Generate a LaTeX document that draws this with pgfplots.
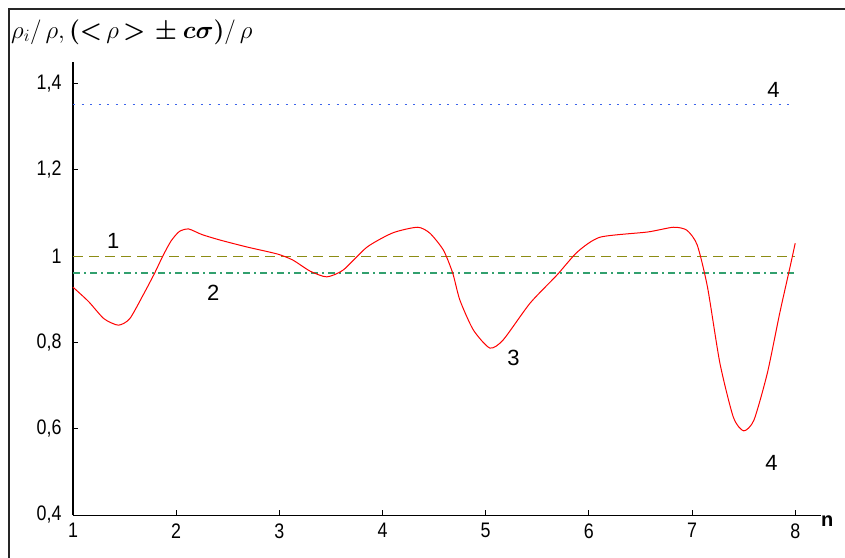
\documentclass[border=0pt]{standalone}
\usepackage{pgfplots}
\pgfplotsset{compat=1.18}
\usepackage{bm}
\usepackage{fontspec}
\setmainfont{Liberation Sans}
\newfontfamily\tickfont[FakeStretch=0.85]{Liberation Sans}
\newcommand{\tf}{\tickfont\fontsize{21}{23}\selectfont}
\definecolor{cOlive}{RGB}{140,140,20}
\definecolor{cGreen}{RGB}{50,160,110}
\definecolor{cBlue}{RGB}{60,100,235}
\begin{document}
\begin{tikzpicture}[x=1pt,y=1pt]
\useasboundingbox (-73,-42) rectangle (772,515);
\draw[line width=2.2pt,black!85] (-64,-45) -- (-64,506) -- (775,506);
\begin{axis}[
  at={(0,0)}, anchor=south west,
  scale only axis, width=748pt, height=453pt,
  xmin=1, xmax=8.25, ymin=0.4, ymax=1.45,
  axis x line=bottom, axis y line=left,
  axis line style={-, line width=1pt},
  tick align=inside, major tick length=5pt,
  tick style={black, line width=0.9pt},
  xtick={1,2,3,4,5,6,7,8},
  xticklabels={\tf 1,\tf 2,\tf 3,\tf 4,\tf 5,\tf 6,\tf 7,\tf 8},
  ytick={0.4,0.6,0.8,1.0,1.2,1.4},
  yticklabels={{\tf 0,4},{\tf 0,6},{\tf 0,8},\tf 1,{\tf 1,2},{\tf 1,4}},
  tick label style={font=\tf},
  xticklabel style={yshift=-5pt},
  yticklabel style={xshift=-8pt},
  clip=false,
]
\addplot[cBlue, line width=1.1pt, dash pattern=on 2pt off 6.5pt] coordinates {(1,1.352) (8,1.352)};
\addplot[cOlive, line width=1.1pt, dash pattern=on 10pt off 6pt] coordinates {(1,1.0) (8,1.0)};
\addplot[cGreen, line width=1.1pt, dash pattern=on 7pt off 4pt on 2pt off 4pt] coordinates {(1,0.961) (8,0.961)};
\addplot[red, line width=1pt, smooth, tension=0.4] coordinates {
(1.00,0.928) (1.15,0.895) (1.30,0.855) (1.44,0.840) (1.55,0.855) (1.68,0.910)
(1.79,0.960) (1.87,1.000) (1.95,1.035) (2.03,1.057) (2.12,1.063) (2.25,1.050)
(2.43,1.037) (2.69,1.021) (2.98,1.005) (3.13,0.991) (3.30,0.965) (3.46,0.952)
(3.62,0.968) (3.85,1.021) (4.10,1.054) (4.34,1.067) (4.46,1.053) (4.59,1.014)
(4.68,0.961) (4.75,0.898) (4.88,0.829) (5.04,0.787) (5.17,0.806) (5.43,0.891)
(5.69,0.956) (5.89,1.010) (6.11,1.044) (6.57,1.056) (6.82,1.067) (6.95,1.060)
(7.05,1.026) (7.15,0.928) (7.27,0.752) (7.40,0.627) (7.50,0.595) (7.60,0.620)
(7.73,0.729) (7.85,0.868) (7.95,0.975) (8.00,1.030)};
\node[font=\fontsize{22}{24}\selectfont] at (axis cs:1.39,1.035) {1};
\node[font=\fontsize{22}{24}\selectfont] at (axis cs:2.36,0.915) {2};
\node[font=\fontsize{22}{24}\selectfont] at (axis cs:5.27,0.765) {3};
\node[font=\fontsize{22}{24}\selectfont] at (axis cs:7.77,0.52) {4};
\node[font=\fontsize{22}{24}\selectfont] at (axis cs:7.79,1.385) {4};
\node[font=\bfseries\fontsize{20}{22}\selectfont] at (axis cs:8.31,0.385) {n};
\end{axis}
\node[anchor=west, font=\fontsize{24}{26}\selectfont, inner sep=0pt] at (-62,483)
  {$\rho_i/\,\rho,\bm{(}{\bm{<}}\,\rho\,{\bm{>}}\,\bm{\pm c\sigma)}/\,\rho$};
\end{tikzpicture}
\end{document}
